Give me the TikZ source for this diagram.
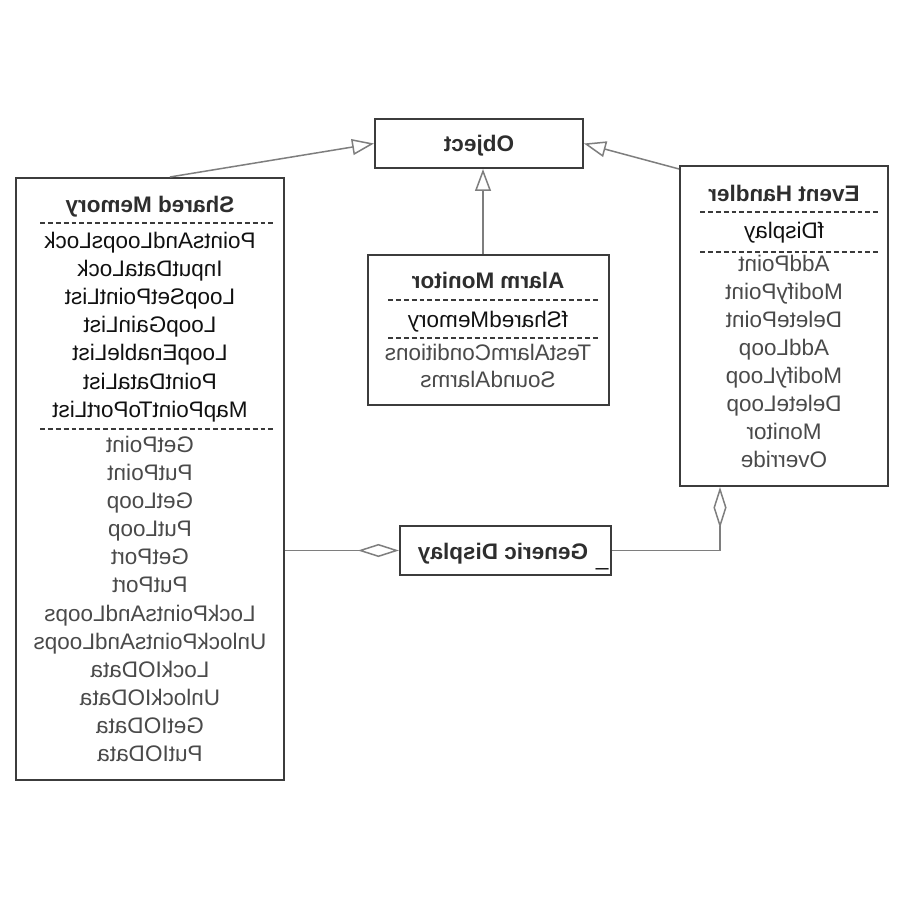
\documentclass[tikz,border=0pt]{standalone}
\usepackage{fontspec}
\setmainfont{Liberation Sans}
\usetikzlibrary{arrows.meta,calc,fit}

\definecolor{boxline}{HTML}{3C3C3C}
\definecolor{conn}{HTML}{7E7E7E}
\definecolor{titletext}{HTML}{2E2E2E}
\definecolor{attrtext}{HTML}{111111}
\definecolor{optext}{HTML}{4A4A4A}
\definecolor{sepcol}{HTML}{3A3A3A}

\tikzset{
  classbox/.style={draw=boxline, line width=1.1pt, fill=white, inner sep=0pt},
  mirror/.style={xscale=-1, anchor=base, inner sep=0pt, font=\fontsize{12}{14}\selectfont},
  ctitle/.style={mirror, text=titletext, font=\fontsize{12}{14}\selectfont\bfseries},
  cattr/.style={mirror, text=attrtext},
  cop/.style={mirror, text=optext},
  sepline/.style={draw=sepcol, line width=0.6pt, dash pattern=on 2.6pt off 1.6pt},
  gen/.style={draw=conn, line width=0.8pt, -{Triangle[open, length=11.7pt, width=8.5pt]}},
  agg/.style={draw=conn, line width=0.8pt, {Diamond[open, length=21.9pt, width=7pt]}-},
}

\begin{document}
\begin{tikzpicture}[x=0.5333pt, y=-0.5333pt]
\useasboundingbox[fill=white] (0,0) rectangle (900,900);

% class boxes
\node[classbox, fit={(375,119) (583,168)}] (obj) {};
\node[classbox, fit={(16,178) (284,780)}] (sm) {};
\node[classbox, fit={(368,255) (609,405)}] (am) {};
\node[classbox, fit={(680,166) (888,486)}] (eh) {};
\node[classbox, fit={(400,526) (611,575)}] (gd) {};

% Object
\node[ctitle] (objT) at (479,152) {Object};

% Shared Memory
\node[ctitle] (smT) at (150,212) {Shared Memory};
\draw[sepline] (40,223) -- (273,223);
\foreach \t [count=\i] in {PointsAndLoopsLock, InputDataLock, LoopSetPointList,
    LoopGainList, LoopEnableList, PointDataList, MapPointToPortList}
  \node[cattr] (smA\i) at (150,{248+(\i-1)*28.2}) {\t};
\draw[sepline] (40,429) -- (273,429);
\foreach \t [count=\i] in {GetPoint, PutPoint, GetLoop, PutLoop, GetPort, PutPort,
    LockPointsAndLoops, UnlockPointsAndLoops, LockIOData, UnlockIOData, GetIOData, PutIOData}
  \node[cop] (smO\i) at (150,{452+(\i-1)*28.18}) {\t};

% Alarm Monitor
\node[ctitle] (amT) at (488,288) {Alarm Monitor};
\draw[sepline] (388,300) -- (598,300);
\node[cattr] (amA1) at (488,327) {fSharedMemory};
\draw[sepline] (388,338) -- (598,338);
\node[cop] (amO1) at (488,360) {TestAlarmConditions};
\node[cop] (amO2) at (488,387) {SoundAlarms};

% Event Handler
\node[ctitle] (ehT) at (784,202) {Event Handler};
\draw[sepline] (700,212) -- (878,212);
\node[cattr] (ehA1) at (784,238) {fDisplay};
\draw[sepline] (700,252) -- (878,252);
\foreach \t [count=\i] in {AddPoint, ModifyPoint, DeletePoint, AddLoop,
    ModifyLoop, DeleteLoop, Monitor, Override}
  \node[cop] (ehO\i) at (784,{271+(\i-1)*28.1}) {\t};

% Generic Display
\node[ctitle] (gdT) at (503,559) {Generic Display};
\node[cattr] (gdU) at (602,565) {\_};

% generalisations
\draw[gen] ($(sm.north)+(20,0)$) -- (obj.west);
\draw[gen] ($(eh.north west)+(0,4)$) -- (obj.east);
\coordinate (amx) at (483,0);
\draw[gen] (am.north -| amx) -- (obj.south -| amx);

% aggregations
\draw[agg] (gd.west) -- (gd.west -| sm.east);
\coordinate (ehx) at (720,0);
\draw[agg] (eh.south -| ehx) |- (gd.east);
\end{tikzpicture}
\end{document}
